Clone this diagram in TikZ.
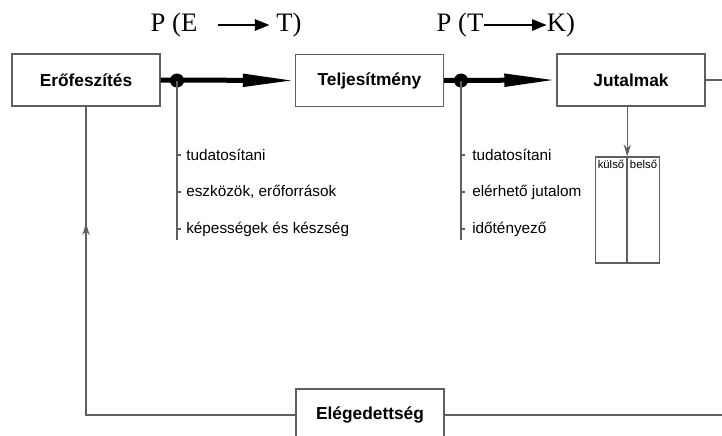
\documentclass[tikz,border=0pt]{standalone}
\usepackage{fontspec}
\setmainfont{Liberation Serif}
\setsansfont{Liberation Sans}
\usetikzlibrary{arrows.meta}
\usetikzlibrary{positioning}
\usetikzlibrary{decorations.markings}
\usepackage{xcolor}

\definecolor{linegray}{RGB}{95,95,95}

\tikzset{
  box/.style={draw=linegray, line width=1.1pt, minimum width=111pt, minimum height=39pt, inner sep=0pt, font=\sffamily\bfseries\fontsize{13}{15}\selectfont},
  dot/.style={circle, fill=black, minimum size=10.5pt, inner sep=0pt},
  bigarrow/.style={line width=3.75pt, -{Triangle[length=39pt, width=9pt]}},
  thinline/.style={draw=linegray, line width=0.9pt},
  itemtext/.style={anchor=west, inner sep=0pt, font=\sffamily\fontsize{11.5}{13}\selectfont},
  toplabel/.style={inner sep=0pt, font=\fontsize{20}{24}\selectfont},
  toparrow/.style={line width=1.5pt, -{Triangle[length=11pt, width=8.5pt]}},
  cell/.style={draw=linegray, line width=0.8pt, minimum width=23.6pt, minimum height=79.5pt, inner sep=0pt},
  celltext/.style={font=\sffamily\fontsize{8.5}{10}\selectfont, inner sep=2.5pt},
  smallhead/.style={-{Stealth[length=9pt, width=5.5pt]}}
}

\begin{document}
\begin{tikzpicture}[x=0.75pt,y=0.75pt,yscale=-1,xscale=1]
\useasboundingbox (0,0) rectangle (722,436);

% boxes
\node[box] (eref) at (86,80) {Erőfeszítés};
\node[box] (telj) at (369.5,80.5) {Teljesítmény};
\node[box] (jut) at (631,80) {Jutalmak};
\node[box] (eleg) at (370,415) {Elégedettség};

% main arrows
\draw[bigarrow] (eref.east) -- (telj.west);
\draw[bigarrow] (telj.east) -- (jut.west);

% junction dots
\node[dot] (d1) at (177,80.5) {};
\node[dot] (d2) at (461,80.5) {};

% probabilities
\node[toplabel] (pe1) at (174,25) {P (E};
\node[toplabel] (pe2) at (289,25) {T)};
\draw[toparrow, shorten <=15pt, shorten >=5pt] (pe1.east) -- (pe2.west);
\node[toplabel] (pt1) at (460,25) {P (T};
\node[toplabel] (pt2) at (561,25) {K)};
\draw[toparrow] (pt1.east) -- (pt2.west);

% factor lists
\coordinate (l1end) at (177,240);
\coordinate (l2end) at (461,240);
\draw[thinline] (d1.center) -- (l1end);
\draw[thinline] (d2.center) -- (l2end);
\foreach \txt [count=\i] in {tudatosítani, {eszközök, erőforrások}, képességek és készség} {
  \node[itemtext] (a\i) at (186,118+37*\i) {\txt};
  \draw[thinline] (d1 |- a\i.west) -- ++(4,0);
}
\foreach \txt [count=\i] in {tudatosítani, elérhető jutalom, időtényező} {
  \node[itemtext] (b\i) at (472,118+37*\i) {\txt};
  \draw[thinline] (d2 |- b\i.west) -- ++(4,0);
}

% rewards table
\node[cell] (kulso) at (611,210) {};
\node[cell, right=0pt of kulso] (belso) {};
\node[celltext, anchor=north] at (kulso.north) {külső};
\node[celltext, anchor=north] at (belso.north) {belső};
\draw[thinline, smallhead] (kulso.north east |- jut.south) -- (kulso.north east);

% feedback loop
\coordinate (rjut) at (722,80);
\coordinate (releg) at (722,415);
\draw[thinline] (jut.east) -- (rjut);
\draw[thinline] (eleg.east) -- (releg);
\draw[thinline, postaction={decorate}, decoration={markings, mark=at position 0.775 with {\arrow{Stealth[length=9pt, width=5.5pt]}}}] (eleg.west) -| (eref.south);

\end{tikzpicture}
\end{document}
